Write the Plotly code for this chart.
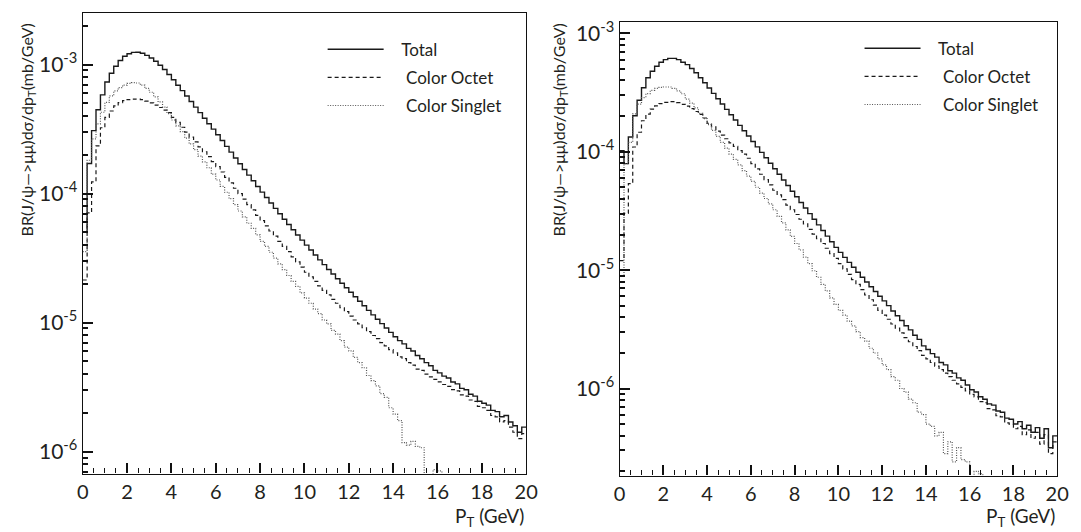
import plotly.graph_objects as go

# pT bins: 100 bins of 0.2 GeV from 0 to 20
pt_edges = [round(i * 0.2, 1) for i in range(101)]

# values, stored as log10 of BR*dsigma/dpT (mb/GeV)
left_total_log = [
    -4.30, -3.767, -3.512, -3.351, -3.235, -3.135, -3.067, -3.013, -2.969, -2.936,
    -2.916, -2.906, -2.905, -2.913, -2.929, -2.949, -2.975, -3.005, -3.038, -3.077,
    -3.118, -3.160, -3.202, -3.244, -3.287, -3.330, -3.373, -3.416, -3.459, -3.501,
    -3.544, -3.589, -3.634, -3.679, -3.724, -3.769, -3.813, -3.857, -3.901, -3.945,
    -3.989, -4.031, -4.073, -4.115, -4.157, -4.199, -4.240, -4.281, -4.321, -4.361,
    -4.400, -4.438, -4.476, -4.514, -4.551, -4.588, -4.624, -4.660, -4.695, -4.730,
    -4.765, -4.800, -4.835, -4.870, -4.905, -4.940, -4.974, -5.008, -5.042, -5.076,
    -5.110, -5.140, -5.165, -5.200, -5.220, -5.255, -5.280, -5.310, -5.335, -5.370,
    -5.390, -5.415, -5.430, -5.460, -5.475, -5.510, -5.520, -5.555, -5.570, -5.610,
    -5.625, -5.640, -5.680, -5.690, -5.730, -5.720, -5.770, -5.800, -5.850, -5.810,
]
left_octet_log = [
    -4.67, -4.15, -3.91, -3.63, -3.49, -3.41, -3.36, -3.32, -3.295, -3.28,
    -3.272, -3.268, -3.267, -3.272, -3.283, -3.297, -3.314, -3.333, -3.353, -3.372,
    -3.410, -3.448, -3.486, -3.524, -3.562, -3.600, -3.638, -3.676, -3.714, -3.752,
    -3.791, -3.833, -3.875, -3.917, -3.959, -4.001, -4.043, -4.085, -4.127, -4.169,
    -4.210, -4.250, -4.290, -4.330, -4.370, -4.410, -4.450, -4.490, -4.530, -4.570,
    -4.610, -4.645, -4.680, -4.715, -4.750, -4.785, -4.820, -4.850, -4.885, -4.915,
    -4.950, -4.980, -5.010, -5.040, -5.070, -5.100, -5.125, -5.155, -5.180, -5.210,
    -5.235, -5.265, -5.280, -5.310, -5.330, -5.360, -5.370, -5.400, -5.420, -5.440,
    -5.460, -5.480, -5.495, -5.520, -5.530, -5.560, -5.570, -5.600, -5.610, -5.650,
    -5.660, -5.680, -5.720, -5.730, -5.770, -5.760, -5.810, -5.850, -5.900, -5.860,
]
left_singlet_log = [
    -4.45, -3.742, -3.576, -3.46, -3.37, -3.294, -3.243, -3.204, -3.179, -3.159,
    -3.146, -3.141, -3.143, -3.160, -3.185, -3.215, -3.250, -3.290, -3.330, -3.380,
    -3.430, -3.475, -3.520, -3.570, -3.615, -3.660, -3.710, -3.755, -3.800, -3.850,
    -3.895, -3.945, -3.990, -4.040, -4.085, -4.135, -4.180, -4.230, -4.270, -4.320,
    -4.370, -4.410, -4.455, -4.500, -4.545, -4.590, -4.635, -4.680, -4.720, -4.770,
    -4.810, -4.850, -4.895, -4.930, -4.980, -5.010, -5.060, -5.090, -5.140, -5.190,
    -5.220, -5.270, -5.310, -5.350, -5.410, -5.450, -5.490, -5.550, -5.580, -5.660,
    -5.710, -5.760, -5.930, -5.950, -5.920, -5.960, -5.970, -6.300, -6.500, -6.140,
    -6.150, -6.500, -6.600, -6.600, -6.700, -6.600, -6.800, -6.700, -6.800, -6.900,
    -6.800, -6.900, -7.000, -6.900, -7.000, -7.000, -7.100, -7.000, -7.100, -7.100,
]

right_total_log = [
    -3.99, -4.10, -3.875, -3.696, -3.565, -3.459, -3.375, -3.320, -3.278, -3.244,
    -3.222, -3.211, -3.211, -3.222, -3.244, -3.264, -3.297, -3.333, -3.375, -3.417,
    -3.462, -3.507, -3.552, -3.597, -3.642, -3.687, -3.732, -3.777, -3.822, -3.867,
    -3.913, -3.959, -4.005, -4.051, -4.097, -4.143, -4.190, -4.238, -4.285, -4.333,
    -4.380, -4.428, -4.475, -4.523, -4.570, -4.618, -4.665, -4.713, -4.760, -4.808,
    -4.850, -4.892, -4.934, -4.976, -5.018, -5.060, -5.100, -5.140, -5.180, -5.220,
    -5.260, -5.300, -5.345, -5.385, -5.425, -5.470, -5.505, -5.550, -5.585, -5.640,
    -5.670, -5.705, -5.735, -5.780, -5.800, -5.850, -5.870, -5.910, -5.930, -5.970,
    -6.010, -6.030, -6.070, -6.090, -6.130, -6.140, -6.190, -6.200, -6.250, -6.260,
    -6.300, -6.280, -6.340, -6.310, -6.370, -6.330, -6.420, -6.340, -6.500, -6.400,
]
right_octet_log = [
    -4.92, -4.52, -4.27, -3.96, -3.835, -3.738, -3.682, -3.640, -3.613, -3.593,
    -3.582, -3.576, -3.576, -3.585, -3.599, -3.615, -3.635, -3.660, -3.685, -3.715,
    -3.760, -3.790, -3.825, -3.860, -3.890, -3.925, -3.955, -3.990, -4.020, -4.055,
    -4.100, -4.145, -4.190, -4.235, -4.280, -4.325, -4.365, -4.405, -4.450, -4.490,
    -4.530, -4.570, -4.610, -4.655, -4.695, -4.735, -4.775, -4.815, -4.860, -4.900,
    -4.945, -4.990, -5.035, -5.080, -5.120, -5.165, -5.210, -5.250, -5.295, -5.340,
    -5.380, -5.415, -5.455, -5.490, -5.530, -5.570, -5.605, -5.645, -5.680, -5.720,
    -5.750, -5.780, -5.810, -5.840, -5.870, -5.900, -5.930, -5.960, -5.990, -6.020,
    -6.050, -6.070, -6.110, -6.120, -6.170, -6.180, -6.230, -6.240, -6.290, -6.300,
    -6.340, -6.320, -6.390, -6.350, -6.420, -6.370, -6.470, -6.390, -6.550, -6.450,
]
right_singlet_log = [
    -5.05, -4.10, -3.92, -3.68, -3.598, -3.542, -3.509, -3.481, -3.464, -3.456,
    -3.453, -3.453, -3.464, -3.486, -3.510, -3.556, -3.590, -3.630, -3.675, -3.720,
    -3.770, -3.820, -3.870, -3.920, -3.970, -4.020, -4.065, -4.110, -4.160, -4.205,
    -4.250, -4.300, -4.350, -4.395, -4.440, -4.490, -4.545, -4.600, -4.660, -4.715,
    -4.775, -4.830, -4.890, -4.945, -5.005, -5.060, -5.120, -5.175, -5.235, -5.290,
    -5.340, -5.380, -5.430, -5.470, -5.520, -5.570, -5.600, -5.660, -5.700, -5.750,
    -5.800, -5.840, -5.900, -5.930, -6.000, -6.030, -6.090, -6.120, -6.200, -6.220,
    -6.300, -6.320, -6.400, -6.370, -6.550, -6.450, -6.620, -6.500, -6.600, -6.620,
    -6.800, -6.700, -6.720, -6.900, -7.000, -7.000, -7.100, -7.000, -7.100, -7.200,
    -7.100, -7.200, -7.200, -7.300, -7.200, -7.300, -7.300, -7.400, -7.300, -7.400,
]

series_names = ["Total", "Color Octet", "Color Singlet"]
legend_pad = {"Total": "\u00a0\u00a0\u00a0", "Color Octet": "\u00a0\u00a0\u00a0\u00a0",
              "Color Singlet": "\u00a0\u00a0\u00a0\u00a0"}
FONT = "Lato"
TXT = "#231f20"
AX = "#111111"


def step_y(logs):
    vals = [10 ** v for v in logs]
    return vals + [vals[-1]]


styles = {
    "Total": dict(color="#1a1a1a", width=1.4, dash="solid"),
    "Color Octet": dict(color="#1a1a1a", width=1.2, dash="4px,3px"),
    "Color Singlet": dict(color="#555555", width=1.2, dash="1px,1.5px"),
}

fig = go.Figure()
panels = [
    ("x", "y", "legend", [left_total_log, left_octet_log, left_singlet_log]),
    ("x2", "y2", "legend2", [right_total_log, right_octet_log, right_singlet_log]),
]
for xa, ya, lg, data in panels:
    for name, logs in zip(series_names, data):
        fig.add_trace(go.Scatter(
            x=pt_edges, y=step_y(logs), mode="lines", name=legend_pad[name] + name,
            line=dict(shape="hv", **styles[name]),
            xaxis=xa, yaxis=ya, legend=lg, legendgroup=name + lg,
        ))

W, H = 1081, 532
def px(x):
    return x / W
def py(y):
    return 1 - y / H

exps = [-3, -4, -5, -6]
major_vals = [10.0 ** e for e in exps]
major_text = ["10<sup>%d</sup>" % e for e in exps]
minor_yvals = [m * 10.0 ** e for e in range(-8, -2) for m in range(2, 10)]
major_xvals = list(range(0, 21, 2))
minor_xvals = [i * 0.5 for i in range(41) if i % 4 != 0]

def yaxis(dom, rng, anchor):
    return dict(
        type="log", domain=dom, range=rng, anchor=anchor, showgrid=False, zeroline=False,
        showline=True, mirror=True, linecolor=AX, linewidth=1.3, layer="above traces",
        ticks="inside", ticklen=10, tickwidth=2, tickcolor=AX,
        ticklabelposition="outside",
        tickvals=major_vals, ticktext=major_text,
        tickfont=dict(family=FONT, size=21, color=TXT),
        minor=dict(tickvals=minor_yvals, ticks="inside", ticklen=5, tickwidth=1.6,
                   tickcolor=AX),
    )

def xaxis(dom, anchor):
    return dict(
        domain=dom, range=[0, 20], anchor=anchor, showgrid=False, zeroline=False,
        showline=True, mirror=True, linecolor=AX, linewidth=1.3,
        ticks="inside", ticklen=10, tickwidth=1.5, tickcolor=AX,
        tickvals=major_xvals,
        tickfont=dict(family=FONT, size=20, color=TXT),
        minor=dict(tickvals=minor_xvals, ticks="inside", ticklen=5, tickwidth=1.4,
                   tickcolor=AX, showgrid=False),
    )

legend_common = dict(
    font=dict(family=FONT, size=17, color=TXT), bgcolor="rgba(0,0,0,0)",
    itemwidth=56, tracegroupgap=3, xanchor="left", yanchor="top",
)

fig.update_layout(
    width=W, height=H, margin=dict(l=0, r=0, t=0, b=0),
    paper_bgcolor="white", plot_bgcolor="white",
    font=dict(family=FONT, color=TXT),
    xaxis=xaxis([px(78), px(529)], "y"),
    yaxis=yaxis([py(473), py(8)], [-6.17, -2.60], "x"),
    xaxis2=xaxis([px(624), px(1069)], "y2"),
    yaxis2=yaxis([py(475), py(16.7)], [-6.735, -2.90], "x2"),
    legend=dict(x=px(322), y=py(27), **legend_common),
    legend2=dict(x=px(868), y=py(26), **legend_common),
    showlegend=True,
)

ytitle = "BR(J/\u03c8\u2014>\u03bc\u03bc)d\u03c3/dp<sub>T</sub>(mb/GeV)"
xtitle = "P<sub>T</sub> (GeV)"
for xc, xr in [(22, 529), (563, 1069)]:
    fig.add_annotation(text=ytitle, xref="paper", yref="paper", x=px(xc), y=py(126),
                       textangle=-90, showarrow=False, xanchor="center", yanchor="middle",
                       font=dict(family=FONT, size=16, color=TXT))
    fig.add_annotation(text=xtitle, xref="paper", yref="paper", x=px(xr), y=py(517),
                       showarrow=False, xanchor="right", yanchor="middle",
                       font=dict(family=FONT, size=19, color=TXT))

fig.write_html("out.html", config={"displayModeBar": False},
               post_script="document.body.style.margin='0px';")
